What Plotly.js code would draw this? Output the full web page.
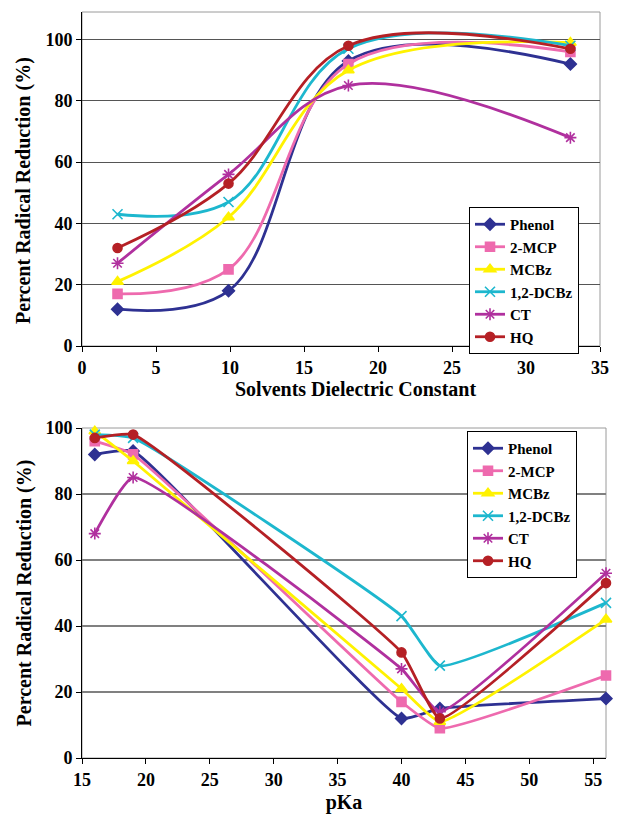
<!DOCTYPE html>
<html>
<head>
<meta charset="utf-8">
<script src="https://cdn.plot.ly/plotly-3.0.1.min.js"></script>
<style>html,body{margin:0;padding:0;background:#fff;}#chart{width:624px;height:825px;}</style>
</head>
<body>
<div id="chart"></div>
<script>
// ---- data ----
const seriesNames = ["Phenol", "2-MCP", "MCBz", "1,2-DCBz", "CT", "HQ"];
const dielectric = [2.4, 9.9, 18, 33];
const pKa = [16, 19, 40, 43, 56];

const phenolDiel = [12, 18, 93, 92];
const mcpDiel    = [17, 25, 92, 96];
const mcbzDiel   = [21, 42, 90, 99];
const dcbzDiel   = [43, 47, 97, 98];
const ctDiel     = [27, 56, 85, 68];
const hqDiel     = [32, 53, 98, 97];

const phenolPka = [92, 93, 12, 15, 18];
const mcpPka    = [96, 92, 17, 9, 25];
const mcbzPka   = [99, 90, 21, 11, 42];
const dcbzPka   = [98, 97, 43, 28, 47];
const ctPka     = [68, 85, 27, 14, 56];
const hqPka     = [97, 98, 32, 12, 53];

const xTicksTop = [0, 5, 10, 15, 20, 25, 30, 35];
const xTicksBottom = [15, 20, 25, 30, 35, 40, 45, 50, 55];
const yTicks = [0, 20, 40, 60, 80, 100];

// ---- styles ----
const colors = ["#2E3192", "#EE6AAE", "#FFF200", "#1DB7CE", "#B0309E", "#B52025"];
const symbols = ["diamond", "square", "triangle-up", "x-thin-open", "asterisk-open", "circle"];
const msizes = [9, 9, 10, 10, 10, 9];
const FONT = "'Liberation Serif', 'Times New Roman', serif";

const topSets = [phenolDiel, mcpDiel, mcbzDiel, dcbzDiel, ctDiel, hqDiel];
const botSets = [phenolPka, mcpPka, mcbzPka, dcbzPka, ctPka, hqPka];

function mk(name, i, x, y, xa, ya, leg, smooth) {
  return {
    type: "scatter", mode: "lines+markers", name: name,
    x: x, y: y, xaxis: xa, yaxis: ya, legend: leg,
    line: {color: colors[i], width: 2.8, shape: "spline", smoothing: smooth},
    marker: {symbol: symbols[i], size: msizes[i], color: colors[i],
             line: {color: colors[i], width: 1.6}},
    cliponaxis: false
  };
}

const traces = [];
seriesNames.forEach((n, i) => traces.push(mk(n, i, dielectric, topSets[i], "x", "y", "legend", 1.05)));
seriesNames.forEach((n, i) => traces.push(mk(n, i, pKa, botSets[i], "x2", "y2", "legend2", 0.4)));

const W = 624, H = 825;
const tickFont = {family: FONT, size: 18, color: "#000", weight: "bold"};
const titleFont = {family: FONT, size: 20, color: "#000", weight: "bold"};

function xax(domain, range, ticks, title, anchor) {
  return {
    domain: domain, range: range, tickvals: ticks, anchor: anchor,
    ticks: "outside", ticklen: 5, tickwidth: 1, tickcolor: "#000",
    showline: true, linecolor: "#000", linewidth: 1, mirror: false,
    showgrid: false, zeroline: false, automargin: false,
    tickfont: tickFont, title: {text: title, font: titleFont, standoff: 6}
  };
}
function yax(domain, range, gridcolor, anchor, title) {
  return {
    domain: domain, range: range, tickvals: yTicks, anchor: anchor,
    ticks: "outside", ticklen: 5, tickwidth: 1, tickcolor: "#000",
    showline: true, linecolor: "#000", linewidth: 1,
    showgrid: true, gridcolor: gridcolor, gridwidth: 1.2, zeroline: false, automargin: false,
    tickfont: tickFont,
    title: {text: title, font: titleFont, standoff: 8}
  };
}

const legendBase = {
  bgcolor: "#fff", bordercolor: "#000", borderwidth: 1,
  font: {family: FONT, size: 15, color: "#000", weight: "bold"},
  xanchor: "left", yanchor: "top", tracegroupgap: 0, itemwidth: 30,
  traceorder: "normal"
};

const layout = {
  width: W, height: H,
  margin: {l: 0, r: 0, t: 0, b: 0, pad: 0},
  paper_bgcolor: "#fff", plot_bgcolor: "#fff",
  showlegend: true,
  xaxis: xax([82 / W, 600 / W], [0, 35], xTicksTop, "", "y"),
  yaxis: yax([(H - 346) / H, (H - 12) / H], [0, 109], "#555", "x", ""),
  xaxis2: xax([82 / W, 606 / W], [15, 56], xTicksBottom, "pKa", "y2"),
  yaxis2: yax([(H - 758) / H, (H - 428) / H], [0, 100], "#808080", "x2", "Percent Radical Reduction (%)"),
  legend: Object.assign({}, legendBase, {x: 469 / W, y: (H - 207) / H}),
  legend2: Object.assign({}, legendBase, {x: 467 / W, y: (H - 431) / H}),
  annotations: [
    {text: "Solvents Dielectric Constant", xref: "paper", yref: "paper",
     x: 355 / W, y: (H - 389) / H, xanchor: "center", yanchor: "middle",
     showarrow: false, font: titleFont},
    {text: "Percent Radical Reduction (%)", xref: "paper", yref: "paper",
     x: 23 / W, y: (H - 191) / H, xanchor: "center", yanchor: "middle",
     textangle: -90, showarrow: false, font: titleFont}
  ],
  shapes: [
    {type: "rect", xref: "x domain", yref: "y domain", x0: 0, x1: 1, y0: 0, y1: 1,
     line: {color: "#9a9a9a", width: 1}, layer: "below"},
    {type: "rect", xref: "x2 domain", yref: "y2 domain", x0: 0, x1: 1, y0: 0, y1: 1,
     line: {color: "#9a9a9a", width: 1}, layer: "below"}
  ]
};

Plotly.newPlot("chart", traces, layout, {displayModeBar: false, staticPlot: true});
</script>
</body>
</html>
